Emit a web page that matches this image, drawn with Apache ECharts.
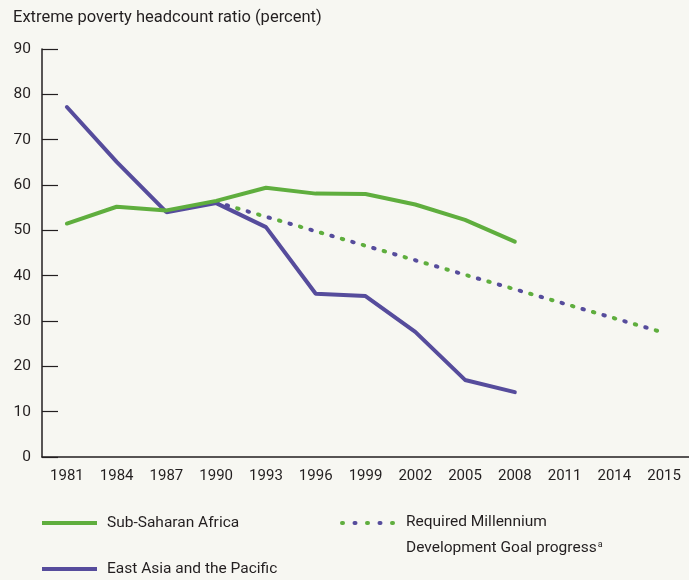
<!DOCTYPE html>
<html>
<head>
<meta charset="utf-8">
<script src="https://cdn.jsdelivr.net/npm/echarts@6/dist/echarts.min.js"></script>
<style>
html,body{margin:0;padding:0;background:#f7f7f2;}
#chart{width:689px;height:580px;}
</style>
</head>
<body>
<div id="chart"></div>
<script>
const categories = ['1981','1984','1987','1990','1993','1996','1999','2002','2005','2008','2011','2014','2015'];
const subSaharanAfrica = [51.5,55.2,54.4,56.5,59.4,58.1,58.0,55.7,52.3,47.5,null,null,null];
const eastAsiaPacific = [77.2,65.1,54.0,56.0,50.7,36.0,35.5,27.6,17.0,14.3,null,null,null];
const mdgProgress = [null,null,null,56.2,53.0,49.8,46.6,43.4,40.2,37.0,33.8,30.6,27.4];
const yTicks = [0,10,20,30,40,50,60,70,80,90];
const titleText = 'Extreme poverty headcount ratio (percent)';

const FONT = 'Roboto, "Liberation Sans", sans-serif';
const GREEN = '#5fae3e';
const PURPLE = '#564c9c';
const INK = '#231f20';

const chart = echarts.init(document.getElementById('chart'), null, {renderer:'canvas'});
chart.setOption({
  backgroundColor: '#f7f7f2',
  animation: false,
  textStyle: {fontFamily: FONT, color: INK},
  title: {
    text: titleText,
    left: 13, top: 9, padding: 0,
    textStyle: {fontFamily: FONT, fontSize: 16.5, fontWeight: 'normal', color: INK}
  },
  grid: {left: 42, right: 0, top: 49, bottom: 123},
  xAxis: {
    type: 'category',
    data: categories,
    boundaryGap: true,
    axisLine: {lineStyle: {color: INK, width: 1.5}},
    axisTick: {inside: true, length: 8, alignWithLabel: true, lineStyle: {color: INK, width: 1.2}},
    axisLabel: {fontFamily: FONT, fontSize: 15, color: INK, margin: 12}
  },
  yAxis: {
    type: 'value',
    min: 0, max: 90, interval: 10,
    axisLine: {show: true, lineStyle: {color: INK, width: 1.5}},
    axisTick: {show: true, inside: true, length: 16, lineStyle: {color: INK, width: 1.2}},
    axisLabel: {fontFamily: FONT, fontSize: 15.5, color: INK, margin: 11,
      formatter: v => yTicks.includes(v) ? String(v) : ''},
    splitLine: {show: false}
  },
  legend: [
    {data: ['Sub-Saharan Africa'], left: 42, top: 515, padding: 0, itemWidth: 55, itemHeight: 4, icon: 'rect',
     textStyle: {fontFamily: FONT, fontSize: 15.5, color: INK, padding: [0,0,0,5]}},
    {data: ['East Asia and the Pacific'], left: 42, top: 561, padding: 0, itemWidth: 55, itemHeight: 4, icon: 'rect',
     textStyle: {fontFamily: FONT, fontSize: 15.5, color: INK, padding: [0,0,0,5]}}
  ],
  graphic: [
    {type: 'line', shape: {x1: 342, y1: 523, x2: 394, y2: 523},
     style: {stroke: GREEN, lineWidth: 4, lineCap: 'round', lineDash: [1, 24]}},
    {type: 'line', shape: {x1: 354.5, y1: 523, x2: 381, y2: 523},
     style: {stroke: PURPLE, lineWidth: 4, lineCap: 'round', lineDash: [1, 24]}},
    {type: 'text', left: 406, top: 514,
     style: {text: 'Required Millennium', font: '15.5px ' + FONT, fill: INK}},
    {type: 'text', left: 406, top: 540,
     style: {text: '{t|Development Goal progress}{s|a}', font: '15.5px ' + FONT, fill: INK,
       rich: {t: {fontFamily: FONT, fontSize: 15.5, color: INK},
              s: {fontFamily: FONT, fontSize: 9, color: INK, verticalAlign: 'top', padding: [0,0,8,1]}}}}
  ],
  series: [
    {name: 'Required MDG progress (green)', type: 'line', data: mdgProgress, symbol: 'none', silent: true,
     lineStyle: {color: GREEN, width: 4, cap: 'round', type: [1.5, 20.3], dashOffset: 0}, z: 1},
    {name: 'Required MDG progress (purple)', type: 'line', data: mdgProgress, symbol: 'none', silent: true,
     lineStyle: {color: PURPLE, width: 4, cap: 'round', type: [1.5, 20.3], dashOffset: -10.9}, z: 1},
    {name: 'East Asia and the Pacific', type: 'line', data: eastAsiaPacific, symbol: 'none',
     itemStyle: {color: PURPLE}, lineStyle: {color: PURPLE, width: 4, cap: 'round'}, z: 2},
    {name: 'Sub-Saharan Africa', type: 'line', data: subSaharanAfrica, symbol: 'none',
     itemStyle: {color: GREEN}, lineStyle: {color: GREEN, width: 4, cap: 'round'}, z: 3}
  ]
});
</script>
</body>
</html>
